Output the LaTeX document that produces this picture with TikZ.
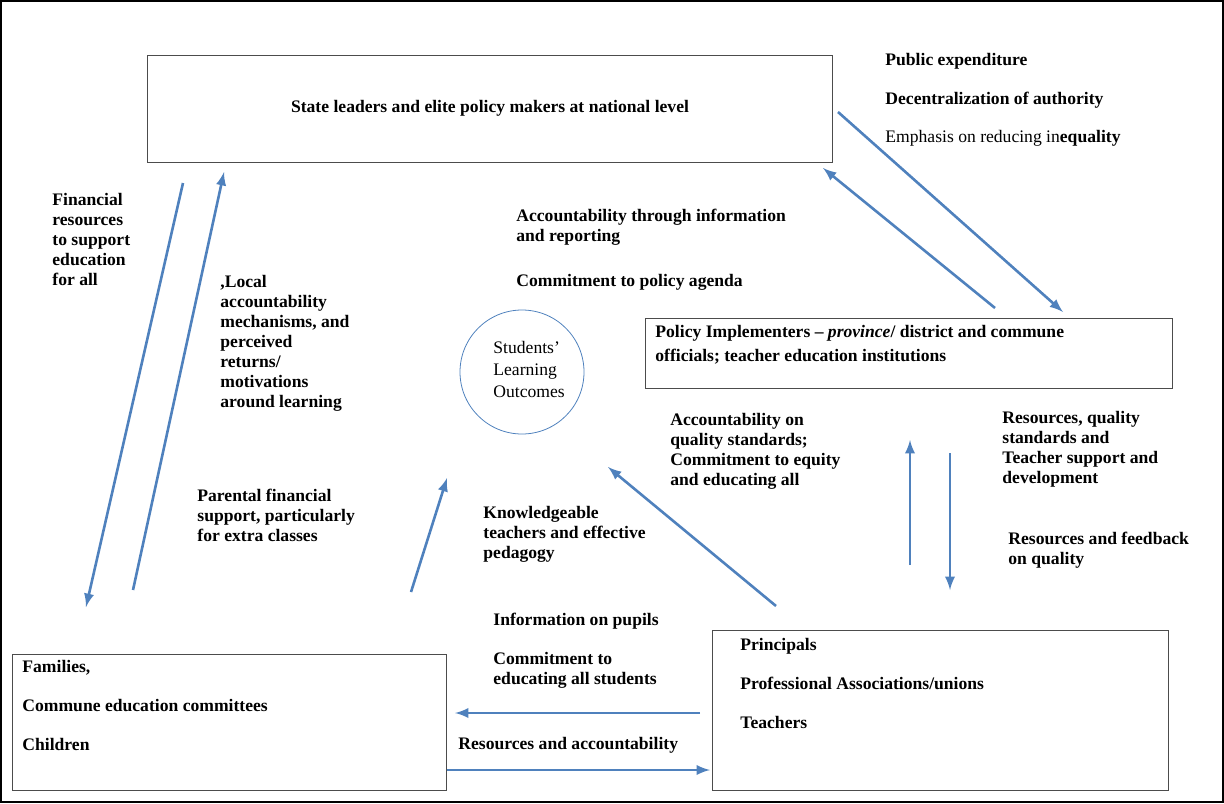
\documentclass[tikz,border=0pt]{standalone}
\usepackage{fontspec}
\setmainfont{Liberation Serif}
\usetikzlibrary{positioning}
\definecolor{flowblue}{RGB}{79,129,189}

\begin{document}
\begin{tikzpicture}[x=0.5pt, y=-0.5pt,
    actor/.style = {draw = black!70, thin, fill = white},
    lbl/.style = {anchor = north west, inner sep = 0pt, align = left, font = \fontsize{8.8}{10}\selectfont\bfseries},
    flow/.style = {draw = flowblue, line width = 1.3pt, -latex},
    ]
    \useasboundingbox (0,0) rectangle (1224,803);
    \draw[line width = 1pt] (1,1) rectangle (1223,802);

    % actors
    \node[actor, minimum width = 342.5pt, minimum height = 53.5pt] (state) at (489.5,108.5) {};
    \node[lbl, anchor = center] at (490,108) {State leaders and elite policy makers at national level};
    \node[actor, minimum width = 263.5pt, minimum height = 35pt] (impl) at (908.5,353) {};
    \node[lbl] (implt) at (655,325) {Policy Implementers -- \textit{province}/ district and commune\\[2pt] officials; teacher education institutions};
    \node[actor, minimum width = 228pt, minimum height = 80pt] (prin) at (940,710) {};
    \node[lbl] at (740,638) {Principals};
    \node[lbl] at (740,677) {Professional Associations/unions};
    \node[lbl] at (740,716) {Teachers};
    \node[actor, minimum width = 217pt, minimum height = 68pt] (fam) at (229,722) {};
    \node[lbl] at (22,660) {Families,};
    \node[lbl] at (22,699) {Commune education committees};
    \node[lbl] at (22,738) {Children};
    \node[draw = flowblue, circle, minimum size = 62pt] (out) at (522,372) {};
    \node[lbl, font = \fontsize{8.8}{10}\selectfont] at (493,341) {Students'\\[1pt] Learning\\[1pt] Outcomes};

    % arrow ends
    \coordinate (a1) at (183,183); \coordinate (a2) at (86,607);
    \coordinate (b1) at (133,590); \coordinate (b2) at (224,172);
    \coordinate (c1) at (838,112); \coordinate (c2) at (1063,312);
    \coordinate (d1) at (995,308); \coordinate (d2) at (823,168);
    \coordinate (e1) at (411,592); \coordinate (e2) at (447,478);
    \coordinate (f1) at (776,606); \coordinate (f2) at (608,467);
    \coordinate (g1) at (910,565); \coordinate (g2) at (910,440);
    \coordinate (h1) at (950,453); \coordinate (h2) at (950,590);
    \coordinate (i1) at (700,713); \coordinate (i2) at (455,713);
    \coordinate (j1) at (447,770); \coordinate (j2) at (710,770);
    \foreach \s/\t in {a1/a2, b1/b2, c1/c2, d1/d2, e1/e2, f1/f2, g1/g2, h1/h2, i1/i2, j1/j2}
        \draw[flow] (\s) -- (\t);

    % labels
    \node[lbl] at (885,53) {Public expenditure};
    \node[lbl] at (885,92) {Decentralization of authority};
    \node[lbl, font = \fontsize{8.8}{10}\selectfont] at (885,130) {Emphasis on reducing in\textbf{equality}};
    \node[lbl] at (52,193) {Financial\\ resources\\ to support\\ education\\ for all};
    \node[lbl] at (220,275) {,Local\\ accountability\\ mechanisms, and\\ perceived\\ returns/\\ motivations\\ around learning};
    \node[lbl] at (516,209) {Accountability through information\\ and reporting};
    \node[lbl] at (516,274) {Commitment to policy agenda};
    \node[lbl] at (197,489) {Parental financial\\ support, particularly\\ for extra classes};
    \node[lbl] at (483,506) {Knowledgeable\\ teachers and effective\\ pedagogy};
    \node[lbl] at (670,413) {Accountability on\\ quality standards;\\ Commitment to equity\\ and educating all};
    \node[lbl] at (1002,411) {Resources, quality\\ standards and\\ Teacher support and\\ development};
    \node[lbl] at (1008,532) {Resources and feedback\\ on quality};
    \node[lbl] at (493,613) {Information on pupils};
    \node[lbl] at (493,652) {Commitment to\\ educating all students};
    \node[lbl] at (458,737) {Resources and accountability};
\end{tikzpicture}
\end{document}
